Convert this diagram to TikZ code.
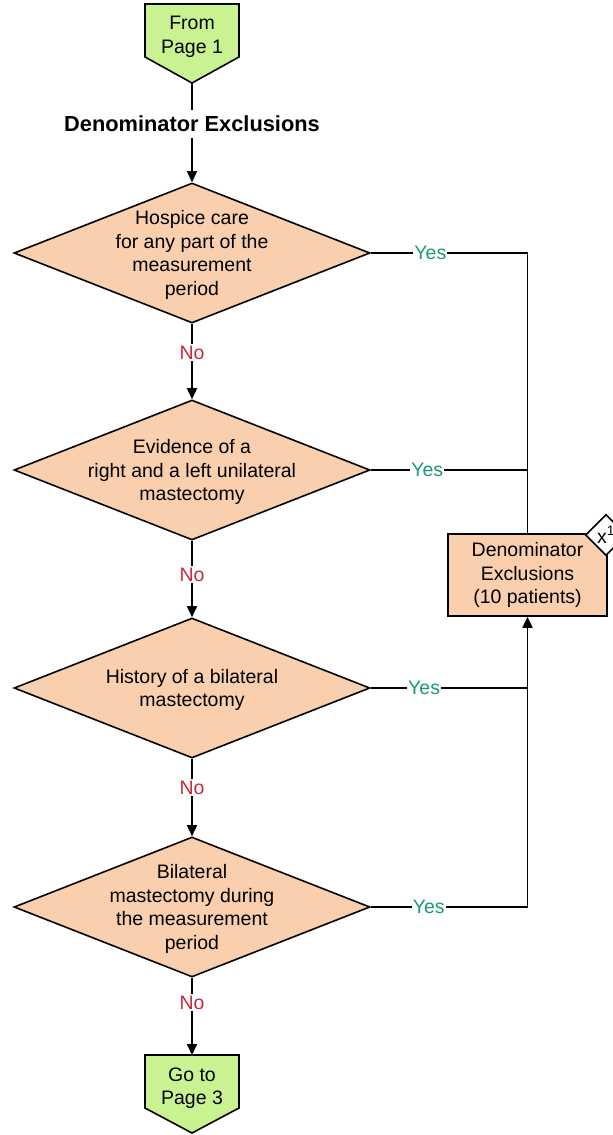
\documentclass[tikz,border=0pt]{standalone}
\usepackage{fontspec}
\setmainfont{Liberation Sans}
\usetikzlibrary{shapes.geometric,arrows.meta}
\definecolor{peach}{HTML}{F9CFAD}
\definecolor{pagegreen}{HTML}{C9F291}
\definecolor{yesgreen}{HTML}{1A9A78}
\definecolor{nored}{HTML}{C8283C}
\begin{document}
\begin{tikzpicture}[x=1pt,y=-1pt,line width=1.6pt]
    \tikzstyle{decision}=[diamond,draw=black,fill=peach,minimum width=356pt,minimum height=140pt,inner sep=0pt]
    \tikzstyle{txt}=[align=center,inner sep=0pt,font=\fontsize{19.5}{23.5}\selectfont]
    \tikzstyle{yes}=[fill=white,inner sep=1pt,text=yesgreen,font=\fontsize{19.5}{23.5}\selectfont]
    \tikzstyle{no}=[fill=white,inner sep=2pt,text=nored,font=\fontsize{19.5}{23.5}\selectfont]
    \tikzstyle{arr}=[-{Triangle[length=11pt,width=10pt]}]
    \tikzstyle{page}=[draw=black,fill=pagegreen,line join=miter]
    \useasboundingbox (0,0) rectangle (613,1135);

    % off-page connectors
    \draw[page] (145,4) -- (239,4) -- (239,57) -- (192,83) -- (145,57) -- cycle;
    \node[txt] (from) at (192,37) {From\\Page 1};
    \coordinate (from-tip) at (192,83);
    \draw[page] (145,1055) -- (239,1055) -- (239,1108) -- (192,1133) -- (145,1108) -- cycle;
    \node[txt] (goto) at (192,1088) {Go to\\Page 3};
    \coordinate (goto-top) at (192,1055);

    \node[inner sep=5pt,font=\fontsize{21.8}{25}\selectfont\bfseries] (title) at (192,124) {Denominator Exclusions};

    \foreach \num/\y/\text in {1/253/{Hospice care\\for any part of the\\measurement\\period},
                               2/470/{Evidence of a\\right and a left unilateral\\mastectomy},
                               3/688/{History of a bilateral\\mastectomy},
                               4/907/{Bilateral\\mastectomy during\\the measurement\\period}}
    {
        \node[decision] (D-\num) at (192,\y) {};
        \node[txt] (T-\num) at (192,\y+2) {\text};
    }

    \node[draw=black,fill=peach,minimum width=159pt,minimum height=82pt,inner sep=0pt,txt] (excl) at (527.5,575) {Denominator\\Exclusions\\(10 patients)};
    \node[diamond,draw=black,fill=white,minimum size=41pt,inner sep=0pt,font=\fontsize{19.5}{23.5}\selectfont] (note) at (606,535) {x\textsuperscript{1}};

    \draw (from-tip) -- (title.north);
    \draw[arr] (title.south) -- (D-1.north);
    \foreach \from/\to/\p in {1/2/0.38, 2/3/0.44, 3/4/0.37}
        \draw[arr] (D-\from.south) -- node[no,pos=\p]{No} (D-\to.north);
    \draw[arr] (D-4.south) -- node[no,pos=0.32]{No} (goto-top);

    \foreach \num/\p in {1/0.38, 2/0.36, 3/0.34}
        \draw (D-\num.east) -- node[yes,pos=\p]{Yes} (D-\num.east -| excl.north);
    \draw (D-1.east -| excl.north) -- (excl.north);
    \draw[arr] (D-4.east) -- node[yes,pos=0.37]{Yes} (D-4.east -| excl.south) -- (excl.south);
\end{tikzpicture}
\end{document}
